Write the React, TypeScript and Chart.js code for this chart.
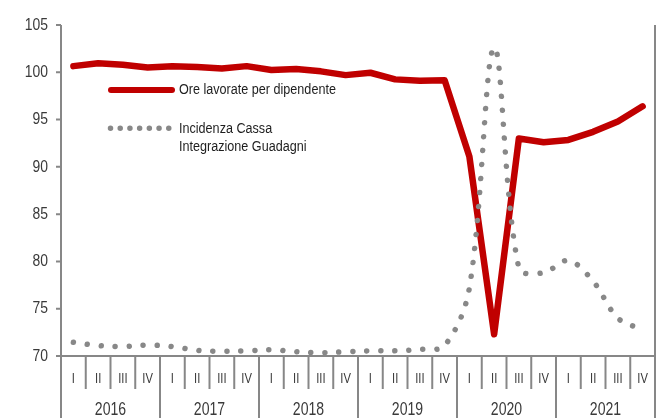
import React, { useEffect, useRef } from 'react';
import { Chart, registerables } from 'chart.js';

Chart.register(...registerables);

// ---- data ----
const years = ['2016', '2017', '2018', '2019', '2020', '2021'];
const quarterLabels = ['I', 'II', 'III', 'IV'];
const categories = years.flatMap((y) => quarterLabels.map((q) => `${q} ${y}`));

const oreLavorate = [
  100.65, 100.95, 100.8, 100.5, 100.65, 100.55, 100.4, 100.65,
  100.25, 100.35, 100.1, 99.7, 99.95, 99.25, 99.1, 99.15,
  91.1, 72.3, 93.0, 92.6, 92.85, 93.7, 94.8, 96.4,
];

const incidenzaCig = [
  71.45, 71.1, 71.0, 71.15, 71.0, 70.6, 70.5, 70.55,
  70.65, 70.45, 70.35, 70.45, 70.55, 70.55, 70.7, 71.1,
  77.2, 102.6, 79.3, 78.8, 80.1, 77.9, 74.0, 72.8,
];

const yTicks = [70, 75, 80, 85, 90, 95, 100, 105];
const legendRed = 'Ore lavorate per dipendente';
const legendGrey = ['Incidenza Cassa', 'Integrazione Guadagni'];

const RED = '#c00000';
const GREY_DOT = '#888888';
const AXIS = '#878787';
const TICK_TEXT = '#3a3a3a';
const FONT = 'Arial, "Liberation Sans", sans-serif';

function drawText(
  ctx: CanvasRenderingContext2D,
  text: string,
  x: number,
  baseline: number,
  size: number,
  sx: number,
  align: CanvasTextAlign,
  color: string
) {
  ctx.save();
  ctx.translate(x, baseline);
  ctx.scale(sx, 1);
  ctx.font = `${size}px ${FONT}`;
  ctx.textAlign = align;
  ctx.textBaseline = 'alphabetic';
  ctx.fillStyle = color;
  ctx.fillText(text, 0, 0);
  ctx.restore();
}

const axesPlugin = {
  id: 'customAxes',
  beforeDatasetsDraw(chart: any) {
    const ctx: CanvasRenderingContext2D = chart.ctx;
    const { left, right, bottom } = chart.chartArea;
    const xs = chart.scales.x;
    const ys = chart.scales.y;
    const H = chart.height;
    const n = categories.length;
    const step = (right - left) / n;

    ctx.save();
    ctx.strokeStyle = AXIS;
    ctx.lineWidth = 2;
    ctx.lineCap = 'butt';

    ctx.beginPath();
    ctx.moveTo(left, ys.getPixelForValue(105));
    ctx.lineTo(left, H);
    ctx.moveTo(right, ys.getPixelForValue(105));
    ctx.lineTo(right, H);
    ctx.moveTo(left, bottom);
    ctx.lineTo(right, bottom);
    ctx.stroke();

    ctx.beginPath();
    yTicks.forEach((v) => {
      const y = ys.getPixelForValue(v);
      ctx.moveTo(left - 5, y);
      ctx.lineTo(left, y);
    });
    ctx.stroke();

    ctx.beginPath();
    for (let k = 1; k < n; k++) {
      const x = xs.getPixelForValue(k) - step / 2;
      ctx.moveTo(x, bottom);
      ctx.lineTo(x, k % 4 === 0 ? H : bottom + 33);
    }
    ctx.stroke();
    ctx.restore();

    yTicks.forEach((v) => {
      const y = ys.getPixelForValue(v);
      drawText(ctx, String(v), 48, y + 4.7, 16, 0.87, 'right', TICK_TEXT);
    });

    categories.forEach((_, i) => {
      const x = xs.getPixelForValue(i);
      drawText(ctx, quarterLabels[i % 4], x, bottom + 26.5, 14, 0.8, 'center', TICK_TEXT);
    });

    years.forEach((yr, j) => {
      const x = (xs.getPixelForValue(j * 4) + xs.getPixelForValue(j * 4 + 3)) / 2;
      drawText(ctx, yr, x, bottom + 59, 19, 0.74, 'center', TICK_TEXT);
    });
  },
  afterDraw(chart: any) {
    const ctx: CanvasRenderingContext2D = chart.ctx;
    ctx.save();
    ctx.strokeStyle = RED;
    ctx.lineWidth = 6;
    ctx.lineCap = 'round';
    ctx.beginPath();
    ctx.moveTo(111, 90);
    ctx.lineTo(172, 90);
    ctx.stroke();
    ctx.strokeStyle = GREY_DOT;
    ctx.lineWidth = 5.5;
    ctx.setLineDash([0.01, 9.7]);
    ctx.beginPath();
    ctx.moveTo(110.5, 128.3);
    ctx.lineTo(169, 128.3);
    ctx.stroke();
    ctx.restore();

    drawText(ctx, legendRed, 179, 94, 14, 0.9, 'left', '#1e1e1e');
    drawText(ctx, legendGrey[0], 179, 132.8, 14, 0.9, 'left', '#1e1e1e');
    drawText(ctx, legendGrey[1], 179, 151.3, 14, 0.9, 'left', '#1e1e1e');
  },
};

export default function App() {
  const ref = useRef<HTMLCanvasElement>(null);

  useEffect(() => {
    document.body.style.margin = '0';
    const canvas = ref.current;
    if (!canvas) return;
    const chart = new Chart(canvas, {
      type: 'line',
      data: {
        labels: categories,
        datasets: [
          {
            label: legendGrey.join(' '),
            data: incidenzaCig,
            borderColor: GREY_DOT,
            borderWidth: 5.5,
            borderDash: [0.01, 14],
            borderCapStyle: 'round',
            tension: 0.35,
            pointRadius: 0,
            fill: false,
            order: 0,
            clip: false,
          } as any,
          {
            label: legendRed,
            data: oreLavorate,
            borderColor: RED,
            borderWidth: 6.5,
            borderJoinStyle: 'round',
            borderCapStyle: 'round',
            tension: 0,
            pointRadius: 0,
            fill: false,
            order: 1,
            clip: false,
          } as any,
        ],
      },
      options: {
        responsive: false,
        animation: false,
        devicePixelRatio: 1,
        events: [],
        layout: { padding: { left: 61, right: 2, top: 25, bottom: 62 } },
        scales: {
          x: { type: 'category', display: false, offset: true },
          y: { type: 'linear', display: false, min: 70, max: 105 },
        },
        plugins: {
          legend: { display: false },
          tooltip: { enabled: false },
        },
      },
      plugins: [axesPlugin],
    });
    return () => chart.destroy();
  }, []);

  return <canvas ref={ref} width={657} height={418} style={{ display: 'block' }} />;
}
